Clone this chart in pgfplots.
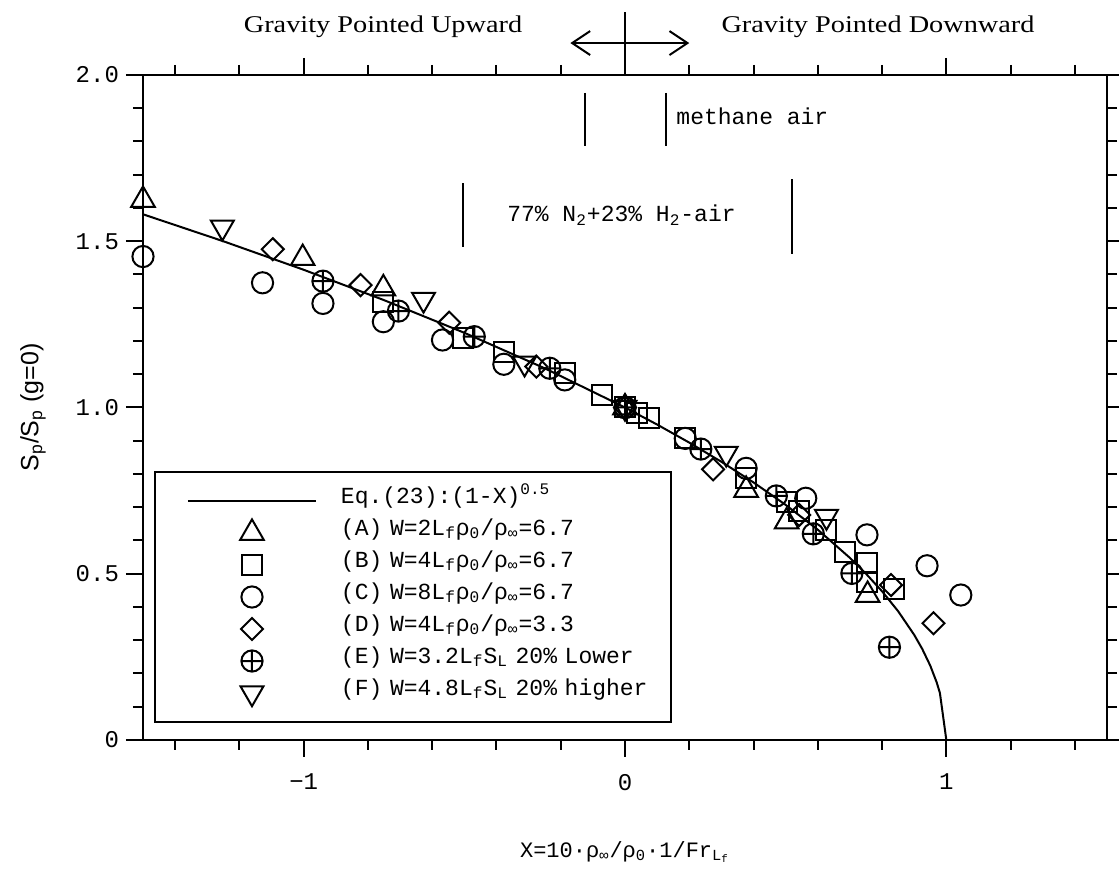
\documentclass[border=0pt]{standalone}
\usepackage{fontspec}
\setmainfont{Liberation Mono}
\newfontfamily\arialf{Liberation Sans}
\newfontfamily\timesf{Liberation Serif}
\usepackage{graphicx}
\usepackage{pgfplots}
\pgfplotsset{compat=1.18}
\usetikzlibrary{arrows.meta}

\begin{document}
\begin{tikzpicture}
\begin{axis}[
  scale only axis, width=482pt, height=332.5pt,
  xmin=-1.5, xmax=1.5, ymin=0, ymax=2,
  axis line style={line width=1.3pt},
  tick align=outside,
  major tick length=8.5pt, minor tick length=5pt,
  every tick/.style={black, line width=1pt},
  xtick={-1,0,1}, xticklabels={−1,0,1},
  minor xtick={-1.4,-1.2,-0.8,-0.6,-0.4,-0.2,0.2,0.4,0.6,0.8,1.2,1.4},
  ytick={0,0.5,1,1.5,2}, yticklabels={0,0.5,1.0,1.5,2.0},
  minor ytick={0.1,0.2,0.3,0.4,0.6,0.7,0.8,0.9,1.1,1.2,1.3,1.4,1.6,1.7,1.8,1.9},
  ticklabel style={font=\fontsize{12}{12}\selectfont},
  xticklabel style={yshift=-5pt},
  clip mode=individual,
  xlabel={X=10·ρ\textsubscript{∞}/ρ\textsubscript{0}·1/Fr\textsubscript{L\textsubscript{f}}},
  xlabel style={at={(axis description cs:0.5,-0.1684)}, anchor=center, font=\fontsize{11}{11}\selectfont},
  ylabel={\arialf S\textsubscript{p}/S\textsubscript{p} (g=0)},
  ylabel style={at={(axis description cs:-0.1141,0.5)}, anchor=center, font=\fontsize{12.5}{12.5}\selectfont},
  legend image code/.code={\draw[mark repeat=2,mark phase=2,#1] plot coordinates {(0pt,0pt)(32pt,0pt)(64pt,0pt)};},
  legend cell align=left,
  legend style={at={(axis description cs:0.0114,0.4045)}, anchor=north west,
    draw=black, line width=1pt, inner xsep=16pt, inner ysep=6.5pt, row sep=0pt,
    font=\fontsize{11.5}{11.5}\selectfont,
    nodes={text width=149pt, align=left, text height=9pt, text depth=7pt, inner xsep=0pt, inner ysep=0pt},
    /tikz/every odd column/.append style={column sep=12pt}},
  mk/.style={only marks, black, line width=1pt, mark options={fill=none, solid}},
]
\addplot[black, line width=1pt, no markers] coordinates {
(-1.5,1.5811) (-1.25,1.5) (-1.0,1.4142) (-0.75,1.3229) (-0.5,1.2247) (-0.25,1.1180)
(0,1) (0.1,0.9487) (0.2,0.8944) (0.3,0.8367) (0.4,0.7746) (0.5,0.7071) (0.6,0.6325)
(0.7,0.5477) (0.75,0.5) (0.8,0.4472) (0.85,0.3873) (0.9,0.3162) (0.925,0.2739)
(0.95,0.2236) (0.97,0.1732) (0.98,0.1414) (1.0,0)};
\addlegendentry{\mbox{Eq.(23):(1-X)\textsuperscript{0.5}}}

\addplot[mk, mark=triangle, mark size=6.8pt] coordinates {
(-1.5,1.624) (-1.003,1.449) (-0.752,1.358) (0,1.0) (0.377,0.752) (0.503,0.657) (0.755,0.436)};
\addlegendentry{\mbox{(A) W=2L\textsubscript{f}ρ\textsubscript{0}/ρ\textsubscript{∞}=6.7}}

\addplot[mk, mark=square, mark size=5pt] coordinates {
(-0.752,1.318) (-0.505,1.21) (-0.377,1.168) (-0.1875,1.103) (-0.073,1.038) (0,1.0)
(0.036,0.982) (0.076,0.967) (0.1875,0.907) (0.377,0.787) (0.503,0.717) (0.54,0.689)
(0.627,0.632) (0.685,0.565) (0.753,0.531) (0.753,0.476) (0.836,0.453)};
\addlegendentry{\mbox{(B) W=4L\textsubscript{f}ρ\textsubscript{0}/ρ\textsubscript{∞}=6.7}}

\addplot[mk, mark=o, mark size=5.3pt] coordinates {
(-1.5,1.454) (-1.128,1.375) (-0.94,1.313) (-0.752,1.258) (-0.568,1.203) (-0.377,1.13)
(-0.1875,1.083) (0,1.0) (0.1875,0.907) (0.377,0.817) (0.5625,0.727) (0.753,0.617)
(0.94,0.524) (1.045,0.436)};
\addlegendentry{\mbox{(C) W=8L\textsubscript{f}ρ\textsubscript{0}/ρ\textsubscript{∞}=6.7}}

\addplot[mk, mark=square, mark size=3.9pt, mark options={rotate=45}] coordinates {
(-1.096,1.476) (-0.823,1.368) (-0.547,1.255) (-0.276,1.123) (0,1.0) (0.274,0.814)
(0.542,0.677) (0.828,0.466) (0.96,0.351)};
\addlegendentry{\mbox{(D) W=4L\textsubscript{f}ρ\textsubscript{0}/ρ\textsubscript{∞}=3.3}}

\addplot[mk, mark=oplus, mark size=5.3pt] coordinates {
(-0.94,1.38) (-0.705,1.29) (-0.469,1.213) (-0.234,1.118) (0,1.0) (0.236,0.875)
(0.471,0.734) (0.586,0.62) (0.706,0.501) (0.823,0.279)};
\addlegendentry{\mbox{(E) W=3.2L\textsubscript{f}S\textsubscript{L} 20\% Lower}}

\addplot[mk, mark=triangle, mark size=6.6pt, mark options={rotate=180}] coordinates {
(-1.253,1.542) (-0.627,1.325) (-0.3125,1.133) (0,1.0) (0.315,0.862) (0.627,0.672)};
\addlegendentry{\mbox{(F) W=4.8L\textsubscript{f}S\textsubscript{L} 20\% higher}}

% annotations
\draw[line width=1pt] (axis cs:0,2) -- (axis cs:0,2.19);
\draw[line width=1pt, -{Straight Barb[length=9pt,width=12pt]}] (axis cs:0,2.096) -- (axis cs:-0.17,2.096);
\draw[line width=1pt, -{Straight Barb[length=9pt,width=12pt]}] (axis cs:0,2.096) -- (axis cs:0.2,2.096);
\node[font=\timesf\fontsize{12}{12}\selectfont] at (axis cs:-0.753,2.144) {\scalebox{1.18}[1]{Gravity Pointed Upward}};
\node[font=\timesf\fontsize{12}{12}\selectfont] at (axis cs:0.7875,2.144) {\scalebox{1.18}[1]{Gravity Pointed Downward}};

\draw[line width=1pt] (axis cs:-0.125,1.946) -- (axis cs:-0.125,1.786);
\draw[line width=1pt] (axis cs:0.128,1.946) -- (axis cs:0.128,1.786);
\node[anchor=west, inner sep=0pt, font=\fontsize{11.5}{11.5}\selectfont] at (axis cs:0.159,1.877) {methane air};

\draw[line width=1pt] (axis cs:-0.503,1.675) -- (axis cs:-0.503,1.483);
\draw[line width=1pt] (axis cs:0.519,1.687) -- (axis cs:0.519,1.462);
\node[font=\fontsize{11.5}{11.5}\selectfont] at (axis cs:-0.011,1.579) {77\% N\textsubscript{2}+23\% H\textsubscript{2}-air};
\end{axis}
\pgfresetboundingbox
\path[use as bounding box] (-71.5pt,-65.5pt) rectangle (488pt,370pt);
\end{tikzpicture}
\end{document}
